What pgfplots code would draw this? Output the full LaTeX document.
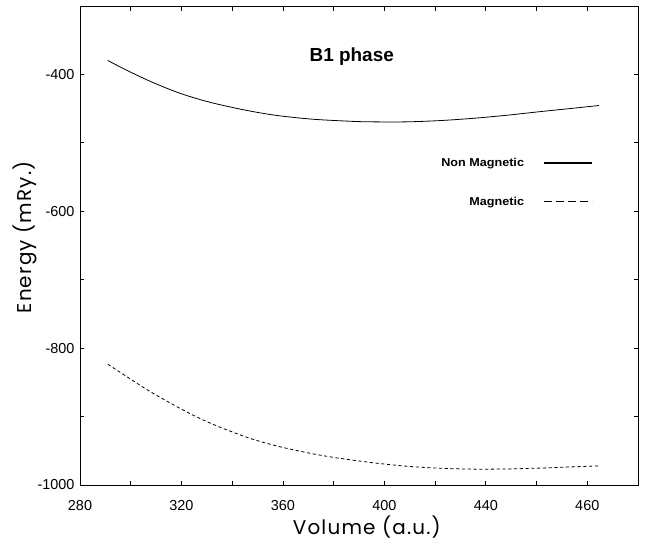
\documentclass[border=0pt]{standalone}
\usepackage{pgfplots}
\pgfplotsset{compat=1.18}
\usepackage{fontspec}
\setmainfont{Liberation Sans}
\newfontfamily\labfont[LetterSpace=6]{Poppins}
\newfontfamily\legfont[FakeStretch=1.1]{Liberation Sans}
\begin{document}
\begin{tikzpicture}
\useasboundingbox (-80bp,-59bp) rectangle (568bp,485bp);
\begin{axis}[
  at={(0,0)}, anchor=south west,
  scale only axis,
  width=558bp, height=479bp,
  xmin=280, xmax=500, ymin=-1000, ymax=-300,
  xtick={280,300,...,500},
  xticklabels={280,,320,,360,,400,,440,,460,},
  ytick={-1000,-900,...,-300},
  yticklabels={-1000,,-800,,-600,,-400,},
  tick align=inside,
  tick pos=both,
  major tick length=4.5bp,
  axis line style={line width=0.9pt},
  every tick/.style={black, line width=0.8pt},
  ticklabel style={font=\fontsize{14.5}{16}\selectfont},
  xticklabel style={yshift=-12pt},
  yticklabel style={xshift=-2pt},
  xlabel={\labfont Volume (a.u.)},
  ylabel={\labfont Energy (mRy.)},
  label style={font=\fontsize{20}{24}\selectfont},
  xlabel style={at={(axis description cs:0.514,-0.088)}, anchor=center},
  ylabel style={at={(axis description cs:-0.0986,0.517)}, anchor=center},
  legend plot pos=right,
  legend cell align=right,
  legend style={draw=none, fill=none, at={(0.919,0.687)}, anchor=north east,
    font=\legfont\bfseries\fontsize{11.5}{13}\selectfont,
    row sep=25pt, inner sep=0pt},
]
\addplot[black, line width=0.8pt, smooth,
  legend image code/.code={\path[draw=none] (0bp,0bp) -- (18bp,0bp); \draw[black, line width=1.2pt] (18bp,0bp) -- (66bp,0bp);}]
coordinates {
(290.9,-379.5)(299,-395)(309.5,-413)(320,-428.3)(330.5,-440)(341,-449)
(350,-455.5)(358.7,-460.5)(371.9,-465.5)(387.6,-468.6)(395.5,-469.3)(408.6,-469.3)
(421.7,-467.5)(434.8,-464.2)(447.9,-459.8)(461.1,-454.5)(474.2,-449.5)(484.7,-445.4)
};
\addlegendentry{Non Magnetic}
\addplot[black, line width=0.8pt, smooth, dash pattern=on 3.2pt off 2.6pt,
  legend image code/.code={\path[draw=none] (0bp,0bp) -- (18bp,0bp); \draw[black, line width=1.2pt, dash pattern=on 8bp off 4bp] (18bp,0bp) -- (66bp,0bp);}]
coordinates {
(291,-823.6)(299,-843)(307,-862)(315,-879)(323,-895)(331,-909)
(339,-921)(348,-933)(358.7,-944)(371.9,-954.5)(382.4,-961)(395.5,-967.5)
(408.6,-972.5)(421.7,-975.5)(434.8,-976.8)(447.9,-976.6)(461.1,-975.3)(474.2,-973.5)(484.7,-972)
};
\addlegendentry{Magnetic}
\node[font=\bfseries\fontsize{19}{22}\selectfont] at (rel axis cs:0.487,0.894) {B1 phase};
\end{axis}
\end{tikzpicture}
\end{document}
